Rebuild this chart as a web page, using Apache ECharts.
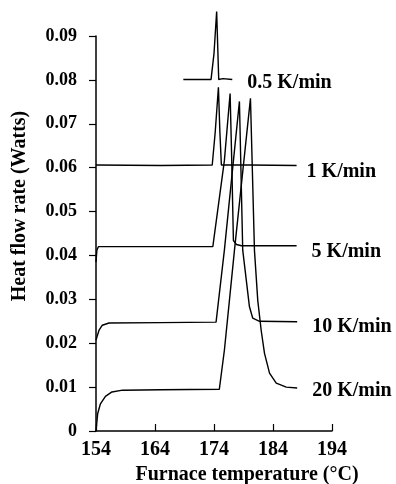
<!DOCTYPE html>
<html>
<head>
<meta charset="utf-8">
<script src="https://cdn.jsdelivr.net/npm/echarts@6/dist/echarts.min.js"></script>
<style>
  html, body { margin: 0; padding: 0; background: #fff; }
  #chart { width: 396px; height: 484px; }
</style>
</head>
<body>
<div id="chart"></div>
<script>
  // tick labels
  const xTicks = [154, 164, 174, 184, 194];
  const yTickLabels = ['0', '0.01', '0.02', '0.03', '0.04', '0.05', '0.06', '0.07', '0.08', '0.09'];

  const seriesNames = ['0.5 K/min', '1 K/min', '5 K/min', '10 K/min', '20 K/min'];

  // [temperature °C, heat flow W]
  const rate05 = [
    [168.8, 0.0801], [173.5, 0.0801], [174.0, 0.086], [174.45, 0.0956],
    [174.8, 0.0801], [175.5, 0.0803], [177.1, 0.0801]
  ];
  const rate1 = [
    [154, 0.0606], [165, 0.0605], [173.7, 0.0606], [174.2, 0.068], [174.75, 0.0783],
    [175.0, 0.068], [175.25, 0.0606], [180, 0.0606], [188, 0.0605]
  ];
  const rate5 = [
    [154, 0.0385], [154.15, 0.0412], [154.4, 0.042], [165, 0.042], [173.8, 0.042],
    [175.76, 0.0616], [176.73, 0.0769], [177.0, 0.062], [177.29, 0.0434],
    [177.8, 0.0425], [178.65, 0.0422], [188, 0.0422]
  ];
  const rate10 = [
    [154, 0.0207], [154.5, 0.0229], [155.07, 0.0241], [156.2, 0.0246], [165, 0.0247],
    [174.35, 0.0248], [175.76, 0.0412], [178.31, 0.0751], [178.87, 0.0412],
    [180.01, 0.0283], [180.57, 0.0257], [181.71, 0.025], [188.1, 0.0249]
  ];
  const rate20 = [
    [154, 0.0], [154.29, 0.004], [154.75, 0.0062], [155.6, 0.0079], [156.7, 0.0089],
    [158.5, 0.0093], [165, 0.0094], [174.9, 0.0095], [175.76, 0.0184], [176.61, 0.0297],
    [177.46, 0.0411], [180.18, 0.0758], [180.86, 0.0411], [181.42, 0.0297],
    [182.0, 0.0229], [182.56, 0.0177], [183.41, 0.0132], [184.55, 0.0109],
    [186.25, 0.0100], [188.1, 0.0098]
  ];

  const allData = [rate05, rate1, rate5, rate10, rate20];
  const labelDistance = [15, 10, 15, 15, 15];
  const labelShift = [3, 6, 6, 5, 3];

  const serif = '"Liberation Serif", "DejaVu Serif", serif';

  const chart = echarts.init(document.getElementById('chart'));

  chart.setOption({
    backgroundColor: '#fff',
    animation: false,
    grid: {
      left: 96,
      top: 36,
      width: 236,
      height: 395,
      containLabel: false,
      outerBoundsMode: 'none'
    },
    xAxis: {
      type: 'value',
      min: xTicks[0],
      max: xTicks[xTicks.length - 1],
      interval: 10,
      splitLine: { show: false },
      axisLine: { lineStyle: { color: '#000', width: 1.5 } },
      axisTick: { inside: true, length: 7, lineStyle: { color: '#000', width: 1.2 } },
      axisLabel: {
        margin: 9,
        color: '#000',
        fontFamily: serif,
        fontWeight: 'bold',
        fontSize: 20,
        formatter: (v) => String(v)
      }
    },
    yAxis: {
      type: 'value',
      min: 0,
      max: 0.09,
      interval: 0.01,
      splitLine: { show: false },
      axisLine: { show: true, lineStyle: { color: '#000', width: 1.5 } },
      axisTick: { show: true, length: 7, lineStyle: { color: '#000', width: 1.2 } },
      axisLabel: {
        margin: 19,
        color: '#000',
        fontFamily: serif,
        fontWeight: 'bold',
        fontSize: 18,
        formatter: (v) => yTickLabels[Math.round(v * 100)]
      }
    },
    graphic: [
      {
        type: 'text',
        x: 247,
        y: 475,
        style: {
          text: 'Furnace temperature (°C)',
          font: 'bold 20px ' + serif,
          fill: '#000',
          textAlign: 'center',
          textVerticalAlign: 'middle'
        }
      },
      {
        type: 'text',
        x: 20,
        y: 206,
        rotation: Math.PI / 2,
        style: {
          text: 'Heat flow rate (Watts)',
          font: 'bold 20px ' + serif,
          fill: '#000',
          textAlign: 'center',
          textVerticalAlign: 'middle'
        }
      }
    ],
    series: allData.map((d, i) => ({
      name: seriesNames[i],
      type: 'line',
      data: d,
      symbol: 'none',
      clip: false,
      lineStyle: { color: '#000', width: 1.4 },
      endLabel: {
        show: true,
        formatter: '{a}',
        distance: labelDistance[i],
        offset: [0, labelShift[i]],
        color: '#000',
        fontFamily: serif,
        fontWeight: 'bold',
        fontSize: 20
      }
    }))
  });
</script>
</body>
</html>
